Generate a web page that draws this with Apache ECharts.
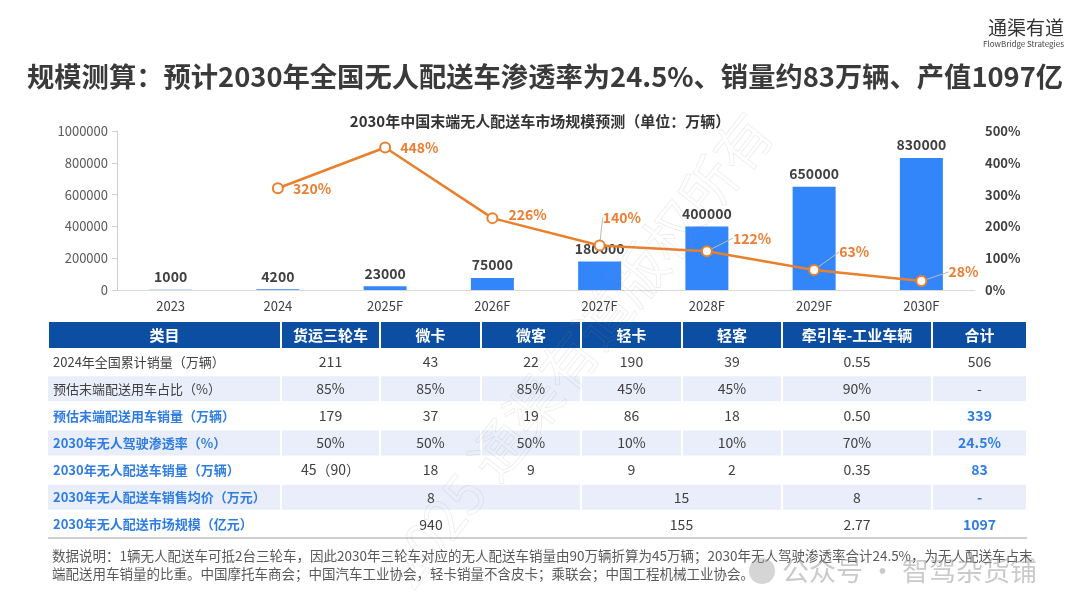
<!DOCTYPE html>
<html>
<head>
<meta charset="utf-8">
<script src="https://cdn.jsdelivr.net/npm/echarts@6/dist/echarts.min.js"></script>
<style>
html,body{margin:0;padding:0;background:#fff;}
#main{width:1080px;height:608px;}
</style>
</head>
<body>
<div id="main"></div>
<script>
// ---------- data ----------
const mainTitle = '规模测算：预计2030年全国无人配送车渗透率为24.5%、销量约83万辆、产值1097亿';
const chartTitle = '2030年中国末端无人配送车市场规模预测（单位：万辆）';
const categories = ['2023', '2024', '2025F', '2026F', '2027F', '2028F', '2029F', '2030F'];
const salesValues = [1000, 4200, 23000, 75000, 180000, 400000, 650000, 830000];
const growthValues = [null, 320, 448, 226, 140, 122, 63, 28];

const tableHeader = ['类目', '货运三轮车', '微卡', '微客', '轻卡', '轻客', '牵引车-工业车辆', '合计'];
const tableRowLabels = [
  '2024年全国累计销量（万辆）',
  '预估末端配送用车占比（%）',
  '预估末端配送用车销量（万辆）',
  '2030年无人驾驶渗透率（%）',
  '2030年无人配送车销量（万辆）',
  '2030年无人配送车销售均价（万元）',
  '2030年无人配送市场规模（亿元）'
];
// null = merged into the cell on its left
const tableRows = [
  ['211', '43', '22', '190', '39', '0.55', '506'],
  ['85%', '85%', '85%', '45%', '45%', '90%', '-'],
  ['179', '37', '19', '86', '18', '0.50', '339'],
  ['50%', '50%', '50%', '10%', '10%', '70%', '24.5%'],
  ['45（90）', '18', '9', '9', '2', '0.35', '83'],
  ['8', null, null, '15', null, '8', '-'],
  ['940', null, null, '155', null, '2.77', '1097']
];
const footnoteLines = [
  '数据说明：1辆无人配送车可抵2台三轮车，因此2030年三轮车对应的无人配送车销量由90万辆折算为45万辆；2030年无人驾驶渗透率合计24.5%，为无人配送车占末',
  '端配送用车销量的比重。中国摩托车商会；中国汽车工业协会，轻卡销量不含皮卡；乘联会；中国工程机械工业协会。'
];

// ---------- layout / style ----------
const FONT = '"Noto Sans CJK SC", "Noto Sans", sans-serif';
const colEdges = [48, 281, 380, 481, 581, 682, 782, 932, 1027];
const headerTop = 322, headerH = 26, rowH = 27.14;
const blueRows = [2, 3, 4, 5, 6];

const chart = echarts.init(document.getElementById('main'));

const graphics = [];
// header
for (let c = 0; c < tableHeader.length; c++) {
  const x0 = colEdges[c], x1 = colEdges[c + 1];
  graphics.push({
    type: 'rect', shape: {x: x0 + 1, y: headerTop, width: x1 - x0 - 2, height: headerH},
    style: {fill: '#0C4EA2'}, z: 10
  });
  graphics.push({
    type: 'text', x: (x0 + x1) / 2, y: headerTop + headerH / 2, z: 11,
    style: {text: tableHeader[c], fill: '#fff', font: 'bold 15px ' + FONT, align: 'center', verticalAlign: 'middle'}
  });
}
// body
for (let r = 0; r < tableRows.length; r++) {
  const y0 = headerTop + headerH + r * rowH;
  const shaded = r % 2 === 1;
  const isBlue = blueRows.indexOf(r) >= 0;
  if (shaded) {
    graphics.push({type: 'rect', shape: {x: colEdges[0], y: y0 + 1, width: colEdges[1] - colEdges[0] - 1, height: rowH - 2}, style: {fill: '#E9EEFA'}, z: 10});
  }
  graphics.push({
    type: 'text', x: colEdges[0] + 5, y: y0 + rowH / 2, z: 11,
    style: {text: tableRowLabels[r], fill: isBlue ? '#2F7DE3' : '#404040', font: (isBlue ? 'bold ' : '') + '13px ' + FONT, align: 'left', verticalAlign: 'middle'}
  });
  const vals = tableRows[r];
  for (let c = 0; c < vals.length; c++) {
    if (vals[c] === null) continue;
    let span = 1;
    while (c + span < vals.length && vals[c + span] === null) span++;
    const x0 = colEdges[c + 1], x1 = colEdges[c + 1 + span];
    if (shaded) {
      graphics.push({type: 'rect', shape: {x: x0 + 1, y: y0 + 1, width: x1 - x0 - 2, height: rowH - 2}, style: {fill: '#E9EEFA'}, z: 10});
    }
    const isTotal = c === vals.length - 1;
    const blueTotal = isTotal && isBlue;
    graphics.push({
      type: 'text', x: (x0 + x1) / 2, y: y0 + rowH / 2, z: 11,
      style: {text: vals[c], fill: blueTotal ? '#2F7DE3' : '#404040', font: (blueTotal ? 'bold 14px ' : '14px ') + FONT, align: 'center', verticalAlign: 'middle'}
    });
  }
}
const tableBottom = headerTop + headerH + tableRows.length * rowH;
graphics.push({type: 'line', shape: {x1: colEdges[0], y1: tableBottom, x2: colEdges[colEdges.length - 1], y2: tableBottom}, style: {stroke: '#BFBFBF', lineWidth: 1.5}, z: 11});

// footnote
footnoteLines.forEach((t, i) => {
  graphics.push({type: 'text', x: 52, y: 556 + i * 18, z: 11,
    style: {text: t, fill: '#595959', font: '13.5px ' + FONT, align: 'left', verticalAlign: 'middle'}});
});

// logo
graphics.push({type: 'text', x: 1064, y: 28, z: 11, style: {text: '通渠有道', fill: '#333', font: '19px ' + FONT, align: 'right', verticalAlign: 'middle'}});
graphics.push({type: 'text', x: 1064, y: 44, z: 11, style: {text: 'FlowBridge Strategies', fill: '#444', font: '8px ' + FONT, align: 'right', verticalAlign: 'middle'}});

// watermarks
graphics.push({type: 'text', x: 578, y: 350, rotation: 0.9, z: 20, silent: true,
  style: {text: '2025 通渠有道版权所有', fill: 'rgba(0,0,0,0)', stroke: 'rgba(150,150,150,0.2)', lineWidth: 0.7, font: '56px ' + FONT, align: 'center', verticalAlign: 'middle'}});
graphics.push({type: 'circle', shape: {cx: 762, cy: 571, r: 13}, style: {fill: 'rgba(150,150,150,0.4)'}, z: 20, silent: true});
graphics.push({type: 'text', x: 782, y: 571, z: 20, silent: true,
  style: {text: '公众号 · 智驾杂货铺', fill: 'rgba(150,150,150,0.5)', font: '27px ' + FONT, align: 'left', verticalAlign: 'middle'}});

const lineLabelOffsets = [
  null, {dx: 1, dy: 0}, {dx: 1, dy: 0}, {dx: 2, dy: -3},
  {dx: -11, dy: -28}, {dx: 12, dy: -13}, {dx: 11, dy: -18}, {dx: 13, dy: -9}
];
const guideLineFrom = 4;

const option = {
  backgroundColor: '#fff',
  animation: false,
  textStyle: {fontFamily: FONT},
  title: [
    {text: mainTitle, left: 22, top: 58, textStyle: {fontSize: 27.3, fontWeight: 'bold', color: '#3A3A3A', fontFamily: FONT}},
    {text: chartTitle, left: 'center', top: 109, textStyle: {fontSize: 15, fontWeight: 'bold', color: '#333', fontFamily: FONT}}
  ],
  grid: {left: 117, right: 105, top: 131, bottom: 318, containLabel: false},
  xAxis: {
    type: 'category', data: categories,
    axisLine: {lineStyle: {color: '#D9D9D9'}},
    axisTick: {show: false},
    axisLabel: {fontSize: 13, color: '#404040', margin: 10}
  },
  yAxis: [
    {
      type: 'value', min: 0, max: 1000000, interval: 200000,
      splitLine: {show: false},
      axisLine: {show: true, lineStyle: {color: '#D0D0D0'}},
      axisTick: {show: true, length: 5, lineStyle: {color: '#D0D0D0'}},
      axisLabel: {fontSize: 13, color: '#595959', margin: 9, formatter: v => String(v)}
    },
    {
      type: 'value', min: 0, max: 500, interval: 100,
      splitLine: {show: false},
      axisLine: {show: false}, axisTick: {show: false},
      axisLabel: {fontSize: 13, color: '#404040', fontWeight: 'bold', margin: 10, formatter: '{value}%'}
    }
  ],
  series: [
    {
      type: 'bar', data: salesValues, barWidth: 43,
      itemStyle: {color: '#3385FA'},
      label: {show: true, position: 'top', distance: 6, fontSize: 14, fontWeight: 'bold', color: '#404040'},
      z: 2
    },
    {
      type: 'line', yAxisIndex: 1,
      data: growthValues.map((v, i) => ({value: v, labelLine: {show: i >= guideLineFrom}})),
      connectNulls: false,
      symbol: 'emptyCircle', symbolSize: 10,
      itemStyle: {color: '#E8802E', borderColor: '#E8802E', borderWidth: 1.5},
      lineStyle: {color: '#E8802E', width: 2.5},
      label: {show: true, position: 'right', distance: 8, fontSize: 14, fontWeight: 'bold', color: '#ED7D31', formatter: '{c}%'},
      labelLine: {show: true, lineStyle: {color: '#BBBBBB', width: 1}},
      labelLayout: function (p) {
        const o = lineLabelOffsets[p.dataIndex];
        return o ? {dx: o.dx, dy: o.dy} : {};
      },
      z: 5
    }
  ],
  graphic: graphics
};
chart.setOption(option);
</script>
</body>
</html>
